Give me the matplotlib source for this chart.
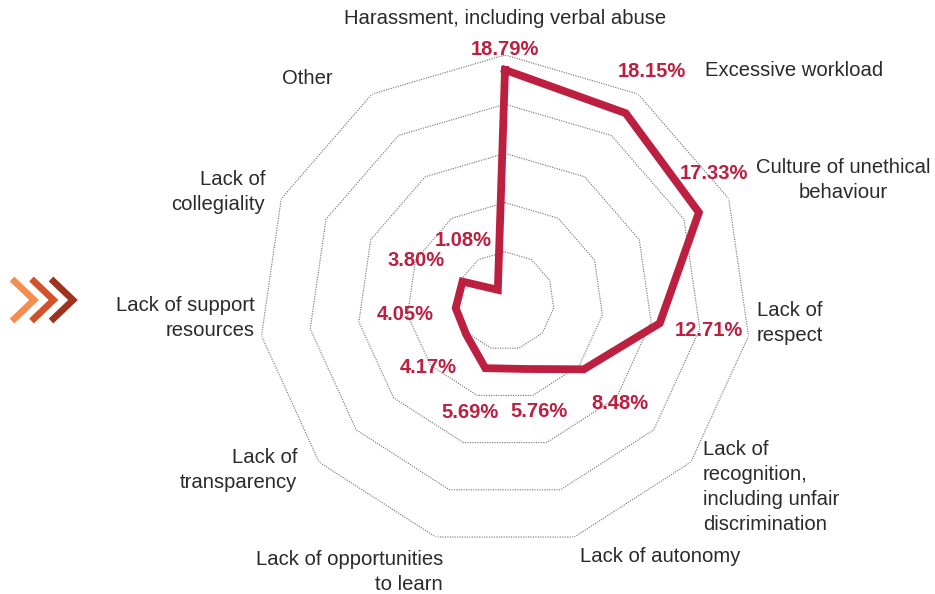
import numpy as np
import matplotlib
matplotlib.use("Agg")
import matplotlib.pyplot as plt

plt.rcParams['font.family'] = ['Liberation Sans', 'DejaVu Sans']

# reasons, clockwise from the top
categories = ["Harassment, including verbal abuse", "Excessive workload",
              "Culture of unethical\nbehaviour", "Lack of\nrespect",
              "Lack of\nrecognition,\nincluding unfair\ndiscrimination",
              "Lack of autonomy", "Lack of opportunities\nto learn",
              "Lack of\ntransparency", "Lack of support\nresources",
              "Lack of\ncollegiality", "Other"]
shares = [18.79, 18.15, 17.33, 12.71, 8.48, 5.76, 5.69, 4.17, 4.05, 3.80, 1.08]
rings = [4, 8, 12, 16, 20]

red = "#bc1f40"
grey_txt = "#2a2a2a"

W, H = 935, 594
fig = plt.figure(figsize=(W / 100, H / 100), dpi=100)

# overlay in pixel units for the side labels and the arrow mark
ov = fig.add_axes([0, 0, 1, 1])
ov.set_xlim(0, W)
ov.set_ylim(H, 0)
ov.axis("off")

# radar axes, centre at (505, 301) px, radius 246 px
cx, cy, R = 505, 301, 246
ax = fig.add_axes([(cx - R) / W, (H - cy - R) / H, 2 * R / W, 2 * R / H],
                  projection="polar")
ax.set_theta_offset(np.pi / 2)
ax.set_theta_direction(-1)
ax.set_ylim(0, 20)
ax.set_xticks([])
ax.set_yticks([])
ax.grid(False)
ax.spines["polar"].set_visible(False)
ax.patch.set_alpha(0)

n = len(shares)
theta = np.arange(n) * 2 * np.pi / n
closed = np.append(theta, theta[0])

for r in rings:
    ax.plot(closed, [r] * (n + 1), color="#6e6e6e", lw=0.8,
            linestyle=(0, (1, 1.2)), zorder=1)

ax.plot(closed, shares + shares[:1], color=red, lw=5.6,
        solid_joinstyle="miter", zorder=3)

# value label offsets (px) from each vertex
val_off = [(0, 20), (26, 42), (15, 39), (49, -7), (36, -34), (14, -43),
           (-15, -44), (-38, -33), (-50, -6), (-46, 21), (-35, 49)]
for t, v, (dx, dy) in zip(theta, shares, val_off):
    ax.annotate(f"{v:.2f}%", xy=(t, v), xytext=(dx, dy),
                textcoords="offset pixels", ha="center", va="center",
                color=red, fontsize=14.5, fontweight="bold", zorder=4)

# category label placement: x, y (px), alignment
cat_pos = [(505, 19, "center"), (705, 71, "left"), (843, 180, "center"),
           (757, 323, "left"), (703, 487, "left"), (660, 556, "center"),
           (443, 572, "right"), (297, 470, "right"), (255, 318, "right"),
           (265, 192, "right"), (307, 78, "center")]
for lab, (x, y, ha) in zip(categories, cat_pos):
    ov.text(x, y, lab, ha=ha, va="center", multialignment=ha,
            fontsize=14.6, color=grey_txt, linespacing=1.38)

# three chevrons on the left
for i, c in enumerate(["#f68c4e", "#d1512b", "#9d3420"]):
    x0 = 12 + i * 19.5
    ov.plot([x0, x0 + 22, x0], [279, 300, 321], color=c, lw=4.8,
            solid_joinstyle="miter", solid_capstyle="butt")

fig.savefig("out.png", dpi=100)
